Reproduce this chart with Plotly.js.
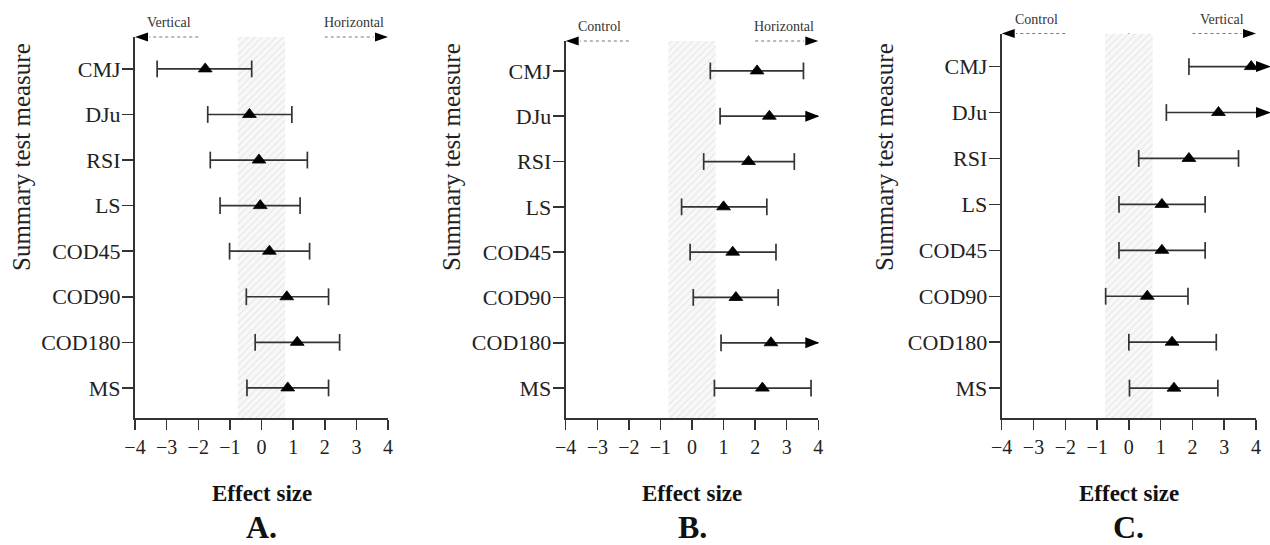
<!DOCTYPE html>
<html>
<head>
<meta charset="utf-8">
<script src="https://cdn.plot.ly/plotly-3.0.1.min.js"></script>
<style>html,body{margin:0;padding:0;background:#fff;}#chart{width:1270px;height:545px;}</style>
</head>
<body>
<div id="chart"></div>
<script>
// ---- data ----
const categories = ['CMJ', 'DJu', 'RSI', 'LS', 'COD45', 'COD90', 'COD180', 'MS'];

// Panel A: Vertical vs Horizontal
const A_effect = [-1.78, -0.38, -0.08, -0.04, 0.25, 0.80, 1.13, 0.83];
const A_lower  = [-3.30, -1.70, -1.62, -1.31, -1.01, -0.48, -0.20, -0.46];
const A_upper  = [-0.31, 0.96, 1.45, 1.22, 1.52, 2.12, 2.47, 2.12];

// Panel B: Control vs Horizontal
const B_effect = [2.06, 2.45, 1.79, 1.00, 1.29, 1.39, 2.50, 2.23];
const B_lower  = [0.58, 0.89, 0.37, -0.33, -0.06, 0.04, 0.92, 0.71];
const B_upper  = [3.53, 4.01, 3.24, 2.37, 2.66, 2.73, 4.08, 3.77];

// Panel C: Control vs Vertical
const C_effect = [3.85, 2.82, 1.89, 1.04, 1.04, 0.58, 1.36, 1.42];
const C_lower  = [1.89, 1.18, 0.31, -0.31, -0.31, -0.73, 0.00, 0.02];
const C_upper  = [5.81, 4.46, 3.45, 2.40, 2.40, 1.86, 2.75, 2.80];

const xTicks = [-4, -3, -2, -1, 0, 1, 2, 3, 4];
const trivialBand = 0.75;
const panelLetters = ['A.', 'B.', 'C.'];
const leftLabels = ['Vertical', 'Control', 'Control'];
const rightLabels = ['Horizontal', 'Horizontal', 'Vertical'];

// ---- layout config ----
const W = 1270, H = 545;
const FONT = 'Liberation Serif, Times New Roman, serif';
const INK = '#333';
const XMIN = -4, XMAX = 4;

const panels = [
  {effect: A_effect, lower: A_lower, upper: A_upper,
   xdom: [135 / W, 388 / W], ydom: [1 - 418 / H, 1 - 37 / H], yrange: [7.66, -0.70], arrowOutside: false},
  {effect: B_effect, lower: B_lower, upper: B_upper,
   xdom: [565.7 / W, 818.3 / W], ydom: [1 - 418 / H, 1 - 41 / H], yrange: [7.66, -0.66], arrowOutside: false},
  {effect: C_effect, lower: C_lower, upper: C_upper,
   xdom: [1001.7 / W, 1256 / W], ydom: [1 - 418 / H, 1 - 33.5 / H], yrange: [7.65, -0.72], arrowOutside: true}
];

const data = [];
const shapes = [];
const annotations = [];
const layout = {
  width: W, height: H,
  margin: {l: 0, r: 0, t: 0, b: 0},
  paper_bgcolor: '#fff', plot_bgcolor: '#fff',
  showlegend: false,
  font: {family: FONT, color: '#222'},
  shapes: shapes, annotations: annotations
};

panels.forEach((p, k) => {
  const sfx = k === 0 ? '' : String(k + 1);
  const xa = 'x' + sfx, ya = 'y' + sfx;
  const idx = categories.map((_, i) => i);

  layout['xaxis' + sfx] = {
    domain: p.xdom, anchor: ya, range: [XMIN, XMAX],
    tickmode: 'array', tickvals: xTicks,
    ticks: 'outside', ticklen: 10, tickwidth: 1.5, tickcolor: INK,
    showline: true, linecolor: INK, linewidth: 2,
    showgrid: false, zeroline: false,
    tickfont: {family: FONT, size: 20, color: '#222'},
    fixedrange: true
  };
  layout['yaxis' + sfx] = {
    domain: p.ydom, anchor: xa, range: p.yrange,
    tickmode: 'array', tickvals: idx, ticktext: categories,
    ticks: 'outside', ticklen: 11, tickwidth: 1.5, tickcolor: INK,
    ticklabelstandoff: -3,
    showline: true, linecolor: INK, linewidth: 2,
    showgrid: false, zeroline: false,
    tickfont: {family: FONT, size: 22, color: '#222'},
    fixedrange: true
  };

  // hatched trivial-effect band
  data.push({
    type: 'scatter', mode: 'lines', xaxis: xa, yaxis: ya,
    x: [-trivialBand, trivialBand, trivialBand, -trivialBand, -trivialBand],
    y: [p.yrange[1], p.yrange[1], p.yrange[0], p.yrange[0], p.yrange[1]],
    fill: 'toself', fillcolor: '#f8f8f8',
    fillpattern: {shape: '/', fgcolor: '#e4e4e4', bgcolor: '#f8f8f8', size: 5, solidity: 0.2},
    line: {width: 0}, hoverinfo: 'skip'
  });

  // confidence interval lines
  const lx = [], ly = [];
  const capX = [], capY = [];
  p.lower.forEach((lo, i) => {
    const hi = p.upper[i];
    lx.push(Math.max(lo, XMIN), Math.min(hi, XMAX), null);
    ly.push(i, i, null);
    capX.push(lo); capY.push(i);
    if (hi <= XMAX) { capX.push(hi); capY.push(i); }
    else {
      shapes.push({
        type: 'path', xref: 'paper', yref: ya, xsizemode: 'pixel', ysizemode: 'pixel',
        xanchor: p.xdom[1], yanchor: i,
        path: p.arrowOutside ? 'M0,-5.5 L15,0 L0,5.5 Z' : 'M1,0 L-13,-5.5 L-13,5.5 Z',
        fillcolor: '#000', line: {width: 0}
      });
    }
  });
  data.push({
    type: 'scatter', mode: 'lines', xaxis: xa, yaxis: ya,
    x: lx, y: ly, line: {color: INK, width: 1.7}, hoverinfo: 'skip', cliponaxis: false
  });
  data.push({
    type: 'scatter', mode: 'markers', xaxis: xa, yaxis: ya,
    x: capX, y: capY,
    marker: {symbol: 'line-ns', size: 12, line: {width: 1.7, color: INK}},
    hoverinfo: 'skip', cliponaxis: false
  });
  // effect size points
  data.push({
    type: 'scatter', mode: 'markers', xaxis: xa, yaxis: ya,
    x: p.effect, y: idx,
    marker: {symbol: 'triangle-up', size: 12, color: '#000', line: {width: 0.8, color: '#000'}},
    cliponaxis: false
  });

  // zero reference line
  shapes.push({
    type: 'line', xref: xa, yref: ya + ' domain', x0: 0, x1: 0, y0: 0, y1: 1,
    line: {color: INK, width: 1.5, dash: '3px,3px'}, layer: 'below'
  });

  // direction arrows at top
  const topY = p.ydom[1];
  shapes.push({
    type: 'line', xref: xa, yref: 'paper', x0: -2, x1: -3.55, y0: topY, y1: topY,
    line: {color: '#777', width: 1.2, dash: 'dot'}
  });
  shapes.push({
    type: 'line', xref: xa, yref: 'paper', x0: 2, x1: 3.55, y0: topY, y1: topY,
    line: {color: '#777', width: 1.2, dash: 'dot'}
  });
  shapes.push({
    type: 'path', xref: xa, yref: 'paper', xsizemode: 'pixel', ysizemode: 'pixel',
    xanchor: XMIN, yanchor: topY, path: 'M0,0 L13,-4.5 L13,4.5 Z',
    fillcolor: '#000', line: {width: 0}
  });
  shapes.push({
    type: 'path', xref: xa, yref: 'paper', xsizemode: 'pixel', ysizemode: 'pixel',
    xanchor: XMAX, yanchor: topY, path: 'M0,0 L-13,-4.5 L-13,4.5 Z',
    fillcolor: '#000', line: {width: 0}
  });
  annotations.push({
    xref: xa, yref: 'paper', x: -2.92, y: topY, yshift: 14, showarrow: false,
    text: leftLabels[k], font: {family: FONT, size: 14, color: '#333'}, xanchor: 'center', yanchor: 'middle'
  });
  annotations.push({
    xref: xa, yref: 'paper', x: 2.92, y: topY, yshift: 14, showarrow: false,
    text: rightLabels[k], font: {family: FONT, size: 14, color: '#333'}, xanchor: 'center', yanchor: 'middle'
  });

  // y axis title
  const yTitleX = [22, 452, 885][k];
  annotations.push({
    xref: 'paper', yref: 'paper', x: yTitleX / W, y: 1 - 157 / H, showarrow: false,
    text: 'Summary test measure', textangle: -90,
    font: {family: FONT, size: 25, color: '#222'}, xanchor: 'center', yanchor: 'middle'
  });
  // x axis title and panel letter
  annotations.push({
    xref: xa, yref: 'paper', x: 0, y: 1 - 493 / H, showarrow: false,
    text: 'Effect size', font: {family: FONT, size: 23, color: '#111', weight: 'bold'},
    xanchor: 'center', yanchor: 'middle'
  });
  annotations.push({
    xref: xa, yref: 'paper', x: 0, y: 1 - 527 / H, showarrow: false,
    text: panelLetters[k], font: {family: FONT, size: 32, color: '#111', weight: 'bold'},
    xanchor: 'center', yanchor: 'middle'
  });
});

Plotly.newPlot('chart', data, layout, {staticPlot: true, displayModeBar: false});
</script>
</body>
</html>
